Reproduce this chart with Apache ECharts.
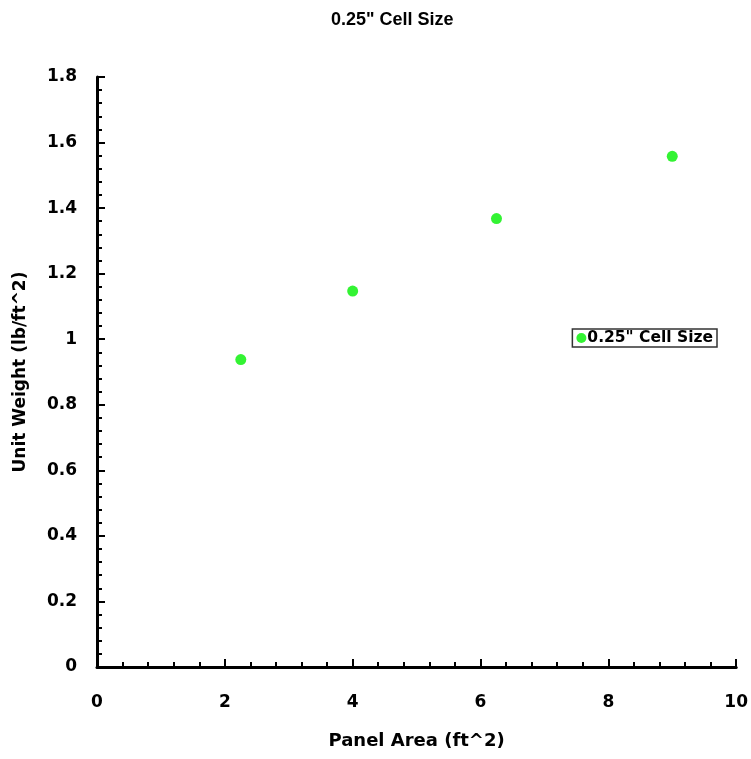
<!DOCTYPE html>
<html><head><meta charset="utf-8">
<script src="https://cdn.jsdelivr.net/npm/echarts@6/dist/echarts.min.js"></script>
<style>html,body{margin:0;padding:0;background:#fff}#c{width:751px;height:759px}</style>
</head><body><div id="c"></div>
<script>
const seriesName = '0.25" Cell Size';
const panelArea = [2.25, 4, 6.25, 9];
const unitWeight = [0.938, 1.147, 1.368, 1.558];
const chartTitle = '0.25" Cell Size';
const xName = 'Panel Area (ft^2)';
const yName = 'Unit Weight (lb/ft^2)';

const chart = echarts.init(document.getElementById('c'), null, {renderer: 'canvas'});
const fam = 'DejaVu Sans, Verdana, sans-serif';
const tickFont = {fontFamily: fam, fontWeight: 'bold', fontSize: 17, color: '#000'};
chart.setOption({
  backgroundColor: '#fff',
  animation: false,
  title: {text: chartTitle, left: 326, top: 6,
    textStyle: {fontFamily: 'Liberation Sans Narrow, Arial Narrow, sans-serif', fontWeight: 'bold', fontSize: 18, color: '#000'}},
  legend: {
    right: 34, top: 329, orient: 'vertical',
    borderColor: '#333', borderWidth: 1.5, borderRadius: 0, padding: [1, 4, 1, 4],
    itemWidth: 10, itemHeight: 10, itemGap: 0,
    textStyle: {fontFamily: fam, fontWeight: 'bold', fontSize: 15.5, color: '#000', padding: [0,0,0,-4]},
    data: [{name: seriesName, icon: 'circle'}]
  },
  grid: {left: 97, top: 77, right: 11, bottom: 92, containLabel: false},
  xAxis: {
    type: 'value', min: 0, max: 10, interval: 2,
    name: xName, nameLocation: 'middle', nameGap: 65,
    nameTextStyle: {fontFamily: fam, fontWeight: 'bold', fontSize: 18, color: '#000'},
    axisLine: {show: true, lineStyle: {color: '#000', width: 3}},
    axisTick: {show: true, inside: true, length: 8, lineStyle: {color: '#000', width: 2}},
    minorTick: {show: true, splitNumber: 5, length: 5, lineStyle: {color: '#000', width: 2}},
    axisLabel: Object.assign({margin: 27}, tickFont),
    splitLine: {show: false}
  },
  yAxis: {
    type: 'value', min: 0, max: 1.8, interval: 0.2,
    name: yName, nameLocation: 'middle', nameGap: 68, nameRotate: 90,
    nameTextStyle: {fontFamily: fam, fontWeight: 'bold', fontSize: 17, color: '#000'},
    axisLine: {show: true, lineStyle: {color: '#000', width: 3}},
    axisTick: {show: true, inside: true, length: 8, lineStyle: {color: '#000', width: 2}},
    minorTick: {show: true, splitNumber: 5, length: 5, lineStyle: {color: '#000', width: 2}},
    axisLabel: Object.assign({margin: 20, formatter: v => String(+v.toFixed(1))}, tickFont),
    splitLine: {show: false}
  },
  series: [{
    name: seriesName, type: 'scatter', symbol: 'circle', symbolSize: 11,
    itemStyle: {color: '#00f000'},
    data: panelArea.map((x, i) => [x, unitWeight[i]])
  }]
});
</script></body></html>
